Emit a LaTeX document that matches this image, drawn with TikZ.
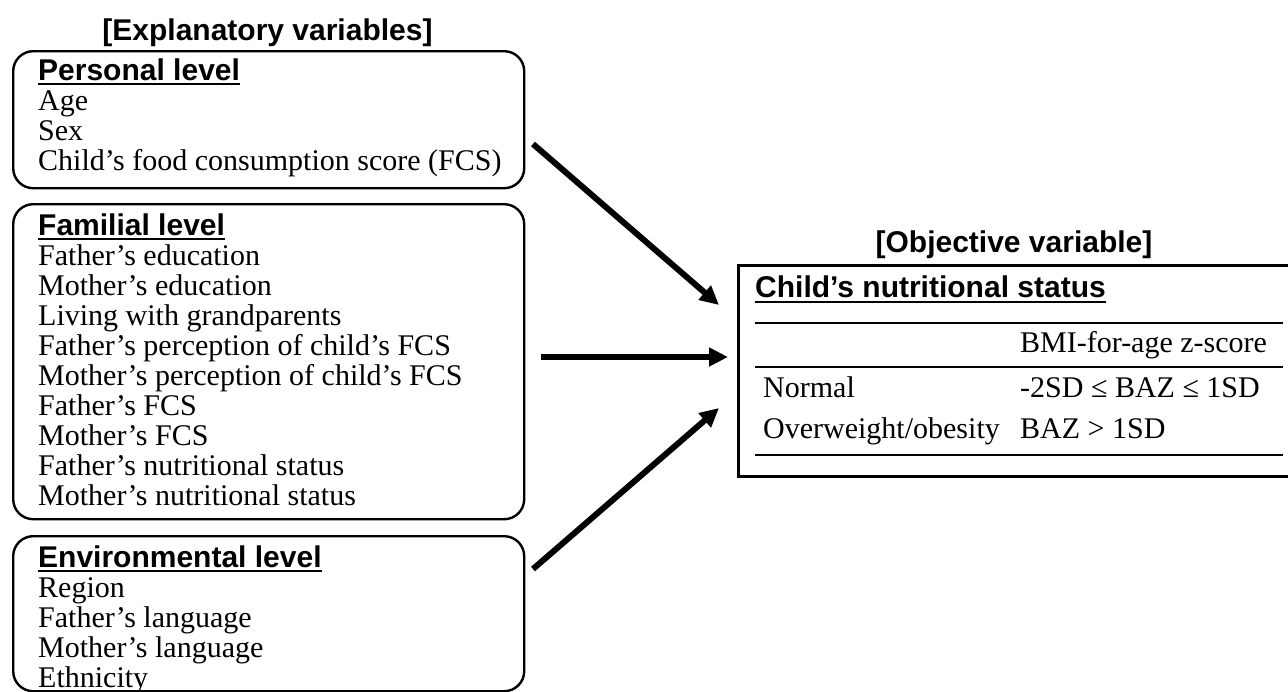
\documentclass[tikz,border=0pt]{standalone}
\usepackage{fontspec}
\setmainfont{Liberation Serif}
\setsansfont{Liberation Sans}
\usetikzlibrary{arrows.meta}
\begin{document}
\begin{tikzpicture}[x=1pt,y=-1pt,
  lvlbox/.style={draw, line width=2.4pt, rounded corners=20pt, anchor=north west, inner sep=0pt},
  objbox/.style={draw, line width=3.2pt, anchor=north west, inner sep=0pt},
  tx/.style={anchor=base west, inner sep=0pt, font=\fontsize{30}{30}\selectfont},
  hd/.style={anchor=base west, inner sep=0pt, font=\fontsize{30}{30}\selectfont\sffamily\bfseries},
  ttl/.style={anchor=base, inner sep=0pt, font=\fontsize{30}{30}\selectfont\sffamily\bfseries},
  ul/.style={line width=1.6pt},
  rule/.style={line width=1.6pt},
  bigarrow/.style={line width=6pt, -{Triangle[length=19pt,width=18pt]}}]
\useasboundingbox (0,0) rectangle (1288,691);

% titles
\node[ttl] (exttl) at (267.5,40) {[Explanatory variables]};
\node[ttl] (objttl) at (1014,252) {[Objective variable]};

% level boxes
\node[lvlbox, minimum width=511pt, minimum height=137pt] (pers) at (12,50) {};
\node[lvlbox, minimum width=511pt, minimum height=315pt] (fam) at (12,203) {};
\node[lvlbox, minimum width=511pt, minimum height=155pt] (env) at (12,535) {};

% personal level
\node[hd] (ph) at (38,80) {Personal level};
\draw[ul] ([yshift=-4pt]ph.base west) -- ([yshift=-4pt]ph.base east);
\foreach \t [count=\i] in {{Age},{Sex},{Child’s food consumption score (FCS)}}
  \node[tx] (p\i) at (38,{80+30*\i}) {\t};

% familial level
\node[hd] (fh) at (38,235) {Familial level};
\draw[ul] ([yshift=-4pt]fh.base west) -- ([yshift=-4pt]fh.base east);
\foreach \t [count=\i] in {{Father’s education},{Mother’s education},{Living with grandparents},{Father’s perception of child’s FCS},{Mother’s perception of child’s FCS},{Father’s FCS},{Mother’s FCS},{Father’s nutritional status},{Mother’s nutritional status}}
  \node[tx] (f\i) at (38,{235+30*\i}) {\t};

% environmental level
\node[hd] (eh) at (38,567) {Environmental level};
\draw[ul] ([yshift=-4pt]eh.base west) -- ([yshift=-4pt]eh.base east);
\foreach \t [count=\i] in {{Region},{Father’s language},{Mother’s language},{Ethnicity}}
  \node[tx] (e\i) at (38,{567+30*\i}) {\t};

% objective box
\node[objbox, minimum width=555pt, minimum height=211pt] (obj) at (737,264) {};
\node[hd] (oh) at (755,297) {Child’s nutritional status};
\draw[ul] ([yshift=-5pt]oh.base west) -- ([yshift=-5pt]oh.base east);
\coordinate (rl) at (755,0);
\coordinate (rr) at (1283,0);
\draw[rule] (755,323) -- (1283,323);
\draw[rule] (755,367) -- (1283,367);
\draw[rule] (755,455) -- (1283,455);
\node[tx] (bmi) at (1020,352) {BMI-for-age z-score};
\node[tx] (nrm) at (763,397) {Normal};
\node[tx] (nrmv) at (1020,397) {-2SD ≤ BAZ ≤ 1SD};
\node[tx] (ovw) at (763,438) {Overweight/obesity};
\node[tx] (ovwv) at (1020,438) {BAZ > 1SD};

% arrows
\coordinate (a1s) at (533,144);
\coordinate (a1e) at (719,305);
\coordinate (a2s) at (541,357);
\coordinate (a2e) at (728,357);
\coordinate (a3s) at (533,569);
\coordinate (a3e) at (719,408);
\draw[bigarrow] (a1s) -- (a1e);
\draw[bigarrow] (a2s) -- (a2e);
\draw[bigarrow] (a3s) -- (a3e);
\end{tikzpicture}
\end{document}
